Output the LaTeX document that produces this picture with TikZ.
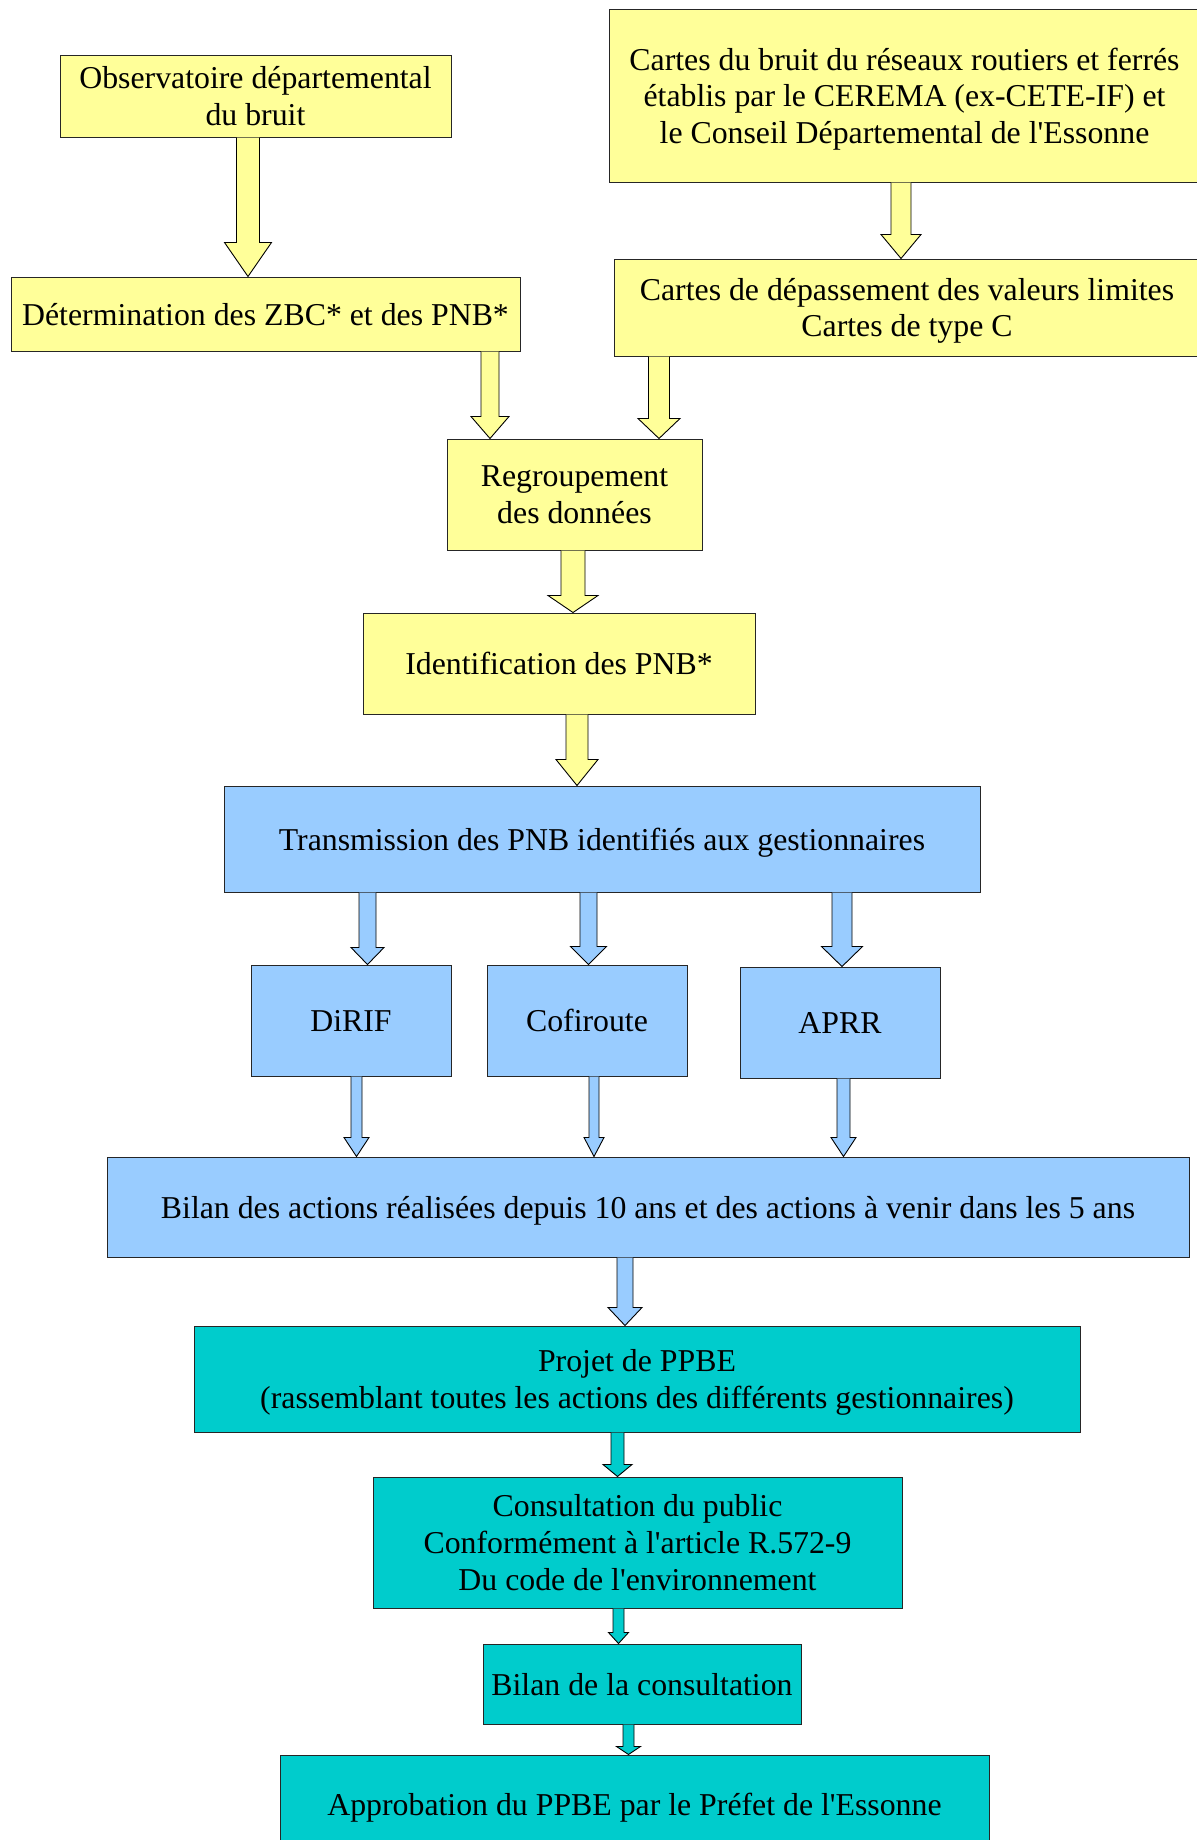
\documentclass[tikz,border=0pt]{standalone}
\usepackage{fontspec}
\setmainfont{Liberation Serif}
\usetikzlibrary{calc}

\definecolor{jauneclair}{HTML}{FFFF99}
\definecolor{bleuclair}{HTML}{99CCFF}
\definecolor{turquoise}{HTML}{00CCCC}

% fleche epaisse : style, x, depart, arrivee, demi-corps, demi-tete, longueur tete
\newcommand{\fleche}[7]{%
    \coordinate (fx) at (#2,0);
    \coordinate (fa) at (fx |- #3.south);
    \coordinate (fb) at (fx |- #4.north);
    \draw[fleche,#1]
        ($(fa)+(-#5,0)$) -- ($(fb)+(-#5,-#7)$) -- ($(fb)+(-#6,-#7)$) -- (fb)
        -- ($(fb)+(#6,-#7)$) -- ($(fb)+(#5,-#7)$) -- ($(fa)+(#5,0)$);
}
\newcommand{\apos}{\textquotesingle}

\begin{document}
\begin{tikzpicture}[x=1pt,y=-1pt,
    every node/.style={rectangle,draw=black!85,line width=1pt,inner sep=0pt,align=center,
        text depth=0pt,font=\fontsize{31.8}{36.6}\selectfont},
    jaune/.style={fill=jauneclair},
    bleu/.style={fill=bleuclair},
    vert/.style={fill=turquoise},
    fleche/.style={draw=black,line width=0.9pt,line join=miter}]
    \useasboundingbox (0,0) rectangle (1197,1840);
    \clip (0,0) rectangle (1197,1840);

    \node[jaune,minimum width=391,minimum height=82] (obs) at (255.5,96) {Observatoire départemental\\du bruit};
    \node[jaune,minimum width=591,minimum height=173] (cartes) at (904.5,95.5) {Cartes du bruit du réseaux routiers et ferrés\\établis par le CEREMA (ex-CETE-IF) et\\le Conseil Départemental de l\apos Essonne};
    \node[jaune,minimum width=509,minimum height=74] (zbc) at (265.5,314) {Détermination des ZBC* et des PNB*};
    \node[jaune,minimum width=586,minimum height=97] (depass) at (907,307.5) {Cartes de dépassement des valeurs limites\\Cartes de type C};
    \node[jaune,minimum width=255,minimum height=111] (regroup) at (574.5,494.5) {Regroupement\\des données};
    \node[jaune,minimum width=392,minimum height=101] (ident) at (559,663.5) {Identification des PNB*};
    \node[bleu,minimum width=756,minimum height=106] (trans) at (602,839) {Transmission des PNB identifiés aux gestionnaires};
    \node[bleu,minimum width=200,minimum height=111] (dirif) at (351,1020.5) {DiRIF};
    \node[bleu,minimum width=200,minimum height=111] (cofi) at (587,1020.5) {Cofiroute};
    \node[bleu,minimum width=200,minimum height=111] (aprr) at (840,1022.5) {APRR};
    \node[bleu,minimum width=1082,minimum height=100] (bilan) at (648,1207) {Bilan des actions réalisées depuis 10 ans et des actions à venir dans les 5 ans};
    \node[vert,minimum width=886,minimum height=106] (projet) at (637,1379) {Projet de PPBE\\(rassemblant toutes les actions des différents gestionnaires)};
    \node[vert,minimum width=529,minimum height=131] (consult) at (637.5,1542.5) {Consultation du public\\Conformément à l\apos article R.572-9\\Du code de l\apos environnement};
    \node[vert,minimum width=318,minimum height=80] (bilancons) at (642,1684) {Bilan de la consultation};
    \node[vert,minimum width=709,minimum height=98] (approb) at (634.5,1804) {Approbation du PPBE par le Préfet de l\apos Essonne};

    \fleche{fill=jauneclair}{248}{obs}{zbc}{11.5}{23.5}{34}
    \fleche{fill=jauneclair}{901}{cartes}{depass}{10}{20}{24}
    \fleche{fill=jauneclair}{490}{zbc}{regroup}{9}{19}{22}
    \fleche{fill=jauneclair}{659}{depass}{regroup}{10.5}{21}{20}
    \fleche{fill=jauneclair}{573}{regroup}{ident}{12}{25}{17}
    \fleche{fill=jauneclair}{577}{ident}{trans}{11}{21}{26}
    \fleche{fill=bleuclair}{367.5}{trans}{dirif}{8.5}{16.5}{17}
    \fleche{fill=bleuclair}{588.5}{trans}{cofi}{8.5}{18}{18}
    \fleche{fill=bleuclair}{842}{trans}{aprr}{10}{20.5}{20}
    \fleche{fill=bleuclair}{356.5}{dirif}{bilan}{5.5}{12.5}{19}
    \fleche{fill=bleuclair}{594}{cofi}{bilan}{5}{10}{19}
    \fleche{fill=bleuclair}{843.5}{aprr}{bilan}{6.5}{12.5}{19}
    \fleche{fill=bleuclair}{625}{bilan}{projet}{8}{17}{18}
    \fleche{fill=turquoise}{617.5}{projet}{consult}{6.5}{14.5}{12}
    \fleche{fill=turquoise}{618.5}{consult}{bilancons}{5.5}{10}{11}
    \fleche{fill=turquoise}{628.5}{bilancons}{approb}{5.5}{12}{8}
\end{tikzpicture}
\end{document}
